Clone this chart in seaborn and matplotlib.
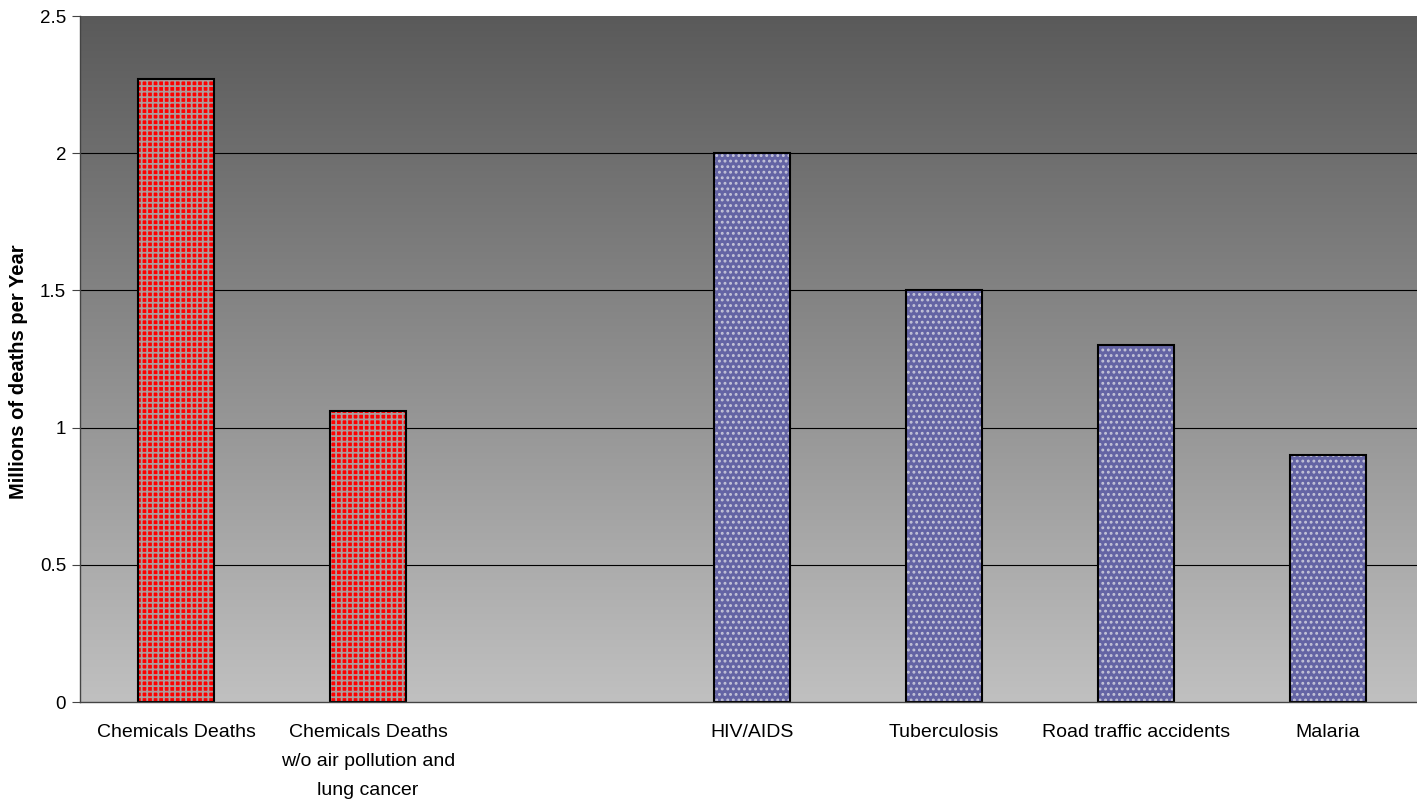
import numpy as np
import pandas as pd
import matplotlib
matplotlib.use('Agg')
import matplotlib.pyplot as plt
from matplotlib.colors import LinearSegmentedColormap
import seaborn as sns

# values (millions of deaths per year)
causes = ['Chemicals Deaths', 'Chemicals Deaths\nw/o air pollution and\nlung cancer',
          'HIV/AIDS', 'Tuberculosis', 'Road traffic accidents', 'Malaria']
deaths = [2.27, 1.06, 2.0, 1.5, 1.3, 0.9]
group = ['chem', 'chem', 'other', 'other', 'other', 'other']
order = [causes[0], causes[1], ' ', causes[2], causes[3], causes[4], causes[5]]
yticks = [0, 0.5, 1, 1.5, 2, 2.5]
ytick_labels = ['0', '0.5', '1', '1.5', '2', '2.5']

df = pd.DataFrame({'cause': causes, 'deaths': deaths, 'group': group})

sns.set_style('white')
plt.rcParams['font.family'] = ['Liberation Sans', 'DejaVu Sans']
plt.rcParams['hatch.linewidth'] = 1.3
plt.rcParams['text.color'] = 'black'
plt.rcParams['xtick.labelcolor'] = 'black'
plt.rcParams['ytick.labelcolor'] = 'black'
plt.rcParams['axes.labelcolor'] = 'black'

fig = plt.figure(figsize=(14.17, 8.06), dpi=100)
ax = fig.add_axes([0.0565, 0.129, 0.9485, 0.851])

# grey gradient background
bg = LinearSegmentedColormap.from_list('bg', ['#c0c0c0', '#5a5a5a'])
ax.imshow(np.linspace(0, 1, 256).reshape(-1, 1), aspect='auto', cmap=bg,
          extent=[-0.5, 6.5, 0, 2.5], origin='lower', zorder=0)

for y in yticks[1:-1]:
    ax.axhline(y, color='black', lw=0.8, zorder=1)

# fill + hatch pass
fills = {'chem': '#ff0000', 'other': '#6464a4'}
hatches = {'chem': '+++', 'other': '...'}
hcols = {'chem': '#ad9c9c', 'other': '#c4c4d8'}
for g in ['chem', 'other']:
    sub = df[df.group == g]
    sns.barplot(data=sub, x='cause', y='deaths', order=order, width=0.4,
                color=fills[g], saturation=1, ax=ax, zorder=2,
                hatch=hatches[g], edgecolor=hcols[g], linewidth=0)
# outline pass
sns.barplot(data=df, x='cause', y='deaths', order=order, width=0.4,
            fill=False, edgecolor='black', linewidth=1.5, ax=ax, zorder=3)

ax.set_xlim(-0.5, 6.5)
ax.set_ylim(0, 2.5)
ax.set_yticks(yticks)
ax.set_yticklabels(ytick_labels, fontsize=13.5)
ax.set_xticks(range(7))
ax.set_xticklabels(order, fontsize=14, linespacing=1.9)
ax.set_xticks(np.arange(-0.5, 7, 1), minor=True)
ax.tick_params(axis='x', which='major', length=0, pad=16)
ax.tick_params(axis='x', which='minor', length=6, color='#444444', direction='out')
ax.tick_params(axis='y', length=6, color='#444444', direction='out', left=True, pad=4)
ax.set_xlabel('')
ax.set_ylabel('Millions of deaths per Year', fontsize=14.5, fontweight='bold')
ax.yaxis.set_label_coords(-0.039, 0.482)

for s in ['top', 'right']:
    ax.spines[s].set_visible(False)
for s in ['left', 'bottom']:
    ax.spines[s].set_color('#444444')
    ax.spines[s].set_linewidth(1)
    ax.spines[s].set_zorder(4)

fig.savefig('out.png', dpi=100)
